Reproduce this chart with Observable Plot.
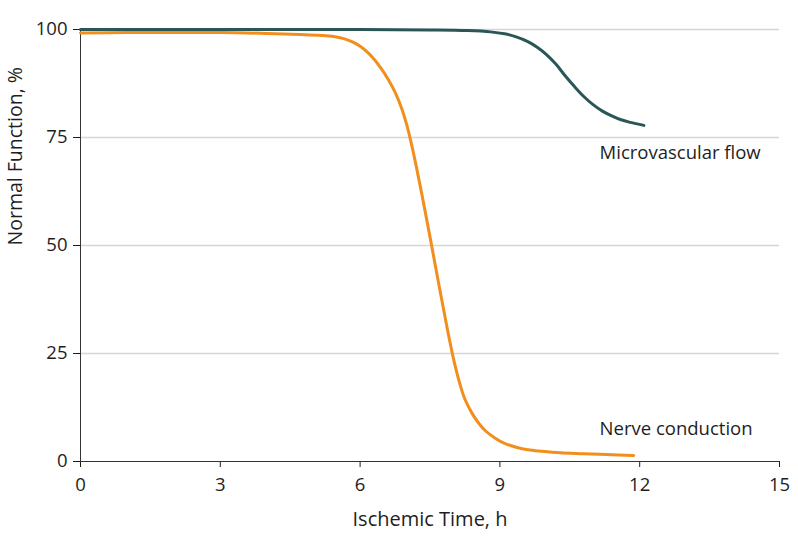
<!DOCTYPE html>
<html><head><meta charset="utf-8">
<script src="https://cdn.jsdelivr.net/npm/d3@7"></script>
<script src="https://cdn.jsdelivr.net/npm/@observablehq/plot@0.6"></script>
<style>body{margin:0;background:#fff}</style>
</head><body><div id="chart"></div>
<script>
const xTicks = [0, 3, 6, 9, 12, 15];
const yTicks = [0, 25, 50, 75, 100];

const flowX = [0, 3, 6, 7.5, 8.3, 8.8, 9.1, 9.35, 9.6, 9.8, 10.0, 10.2, 10.4, 10.6, 10.8, 11.0, 11.2, 11.4, 11.6, 11.8, 12.09];
const flowY = [100, 100, 100, 99.9, 99.75, 99.45, 99.0, 98.3, 97.2, 95.9, 94.2, 92.0, 89.3, 86.8, 84.5, 82.6, 81.1, 80.0, 79.1, 78.5, 77.8];

const nerveX = [0, 1, 2, 3, 4, 4.72, 5.1, 5.43, 5.65, 5.86, 6.0, 6.15, 6.3, 6.45, 6.6, 6.75, 6.9, 7.0, 7.1, 7.2, 7.33, 7.5, 7.7, 7.87, 8.0, 8.12, 8.25, 8.4, 8.55, 8.7, 8.9, 9.1, 9.35, 9.6, 9.9, 10.3, 10.8, 11.3, 11.87];
const nerveY = [99.2, 99.3, 99.3, 99.3, 99.1, 98.85, 98.65, 98.4, 97.9, 97.0, 96.1, 94.8, 93.1, 91.0, 88.5, 85.5, 81.5, 78.0, 73.6, 68.6, 61.6, 52.0, 40.4, 30.8, 24.0, 18.8, 14.4, 11.2, 8.8, 7.0, 5.4, 4.2, 3.3, 2.7, 2.35, 2.0, 1.8, 1.6, 1.4];

const seriesNames = ["Microvascular flow", "Nerve conduction"];
const labelX = [11.14, 11.14];
const labelY = [70.1, 6.25];

const xTitle = "Ischemic Time, h";
const yTitle = "Normal Function, %";

const flow = flowX.map((x, i) => ({x, y: flowY[i]}));
const nerve = nerveX.map((x, i) => ({x, y: nerveY[i]}));
const labels = seriesNames.map((name, i) => ({name, x: labelX[i], y: labelY[i]}));

const chart = Plot.plot({
  width: 798,
  height: 546,
  marginLeft: 80,
  marginRight: 19,
  marginTop: 29,
  marginBottom: 85,
  style: {fontFamily: "'Open Sans', sans-serif", fontSize: "18.5px", color: "#1e1e1e", background: "#fff"},
  x: {domain: [0, 15]},
  y: {domain: [0, 100]},
  marks: [
    Plot.ruleY(yTicks.filter(d => d > 0), {stroke: "#d6d6d6", strokeWidth: 1.5}),
    Plot.axisX({ticks: xTicks, tickSize: 6, tickPadding: 10, label: null}),
    Plot.axisY({ticks: yTicks, tickSize: 7, tickPadding: 6, label: null}),
    Plot.ruleY([0], {stroke: "#333"}),
    Plot.ruleX([0], {stroke: "#333"}),
    Plot.line(nerve, {x: "x", y: "y", stroke: "#f28e1c", strokeWidth: 3, curve: "catmull-rom"}),
    Plot.line(flow, {x: "x", y: "y", stroke: "#2a5656", strokeWidth: 3, curve: "catmull-rom"}),
    Plot.text(labels, {x: "x", y: "y", text: "name", textAnchor: "start", lineAnchor: "bottom", fill: "#1e1e1e"}),
    Plot.text([xTitle], {frameAnchor: "bottom", lineAnchor: "bottom", dy: 64, fontSize: 20, fill: "#1e1e1e"}),
    Plot.text([yTitle], {frameAnchor: "left", rotate: -90, lineAnchor: "bottom", dx: -59, fontSize: 19.5, fill: "#1e1e1e"})
  ]
});
document.getElementById("chart").appendChild(chart);
</script>
</body></html>
